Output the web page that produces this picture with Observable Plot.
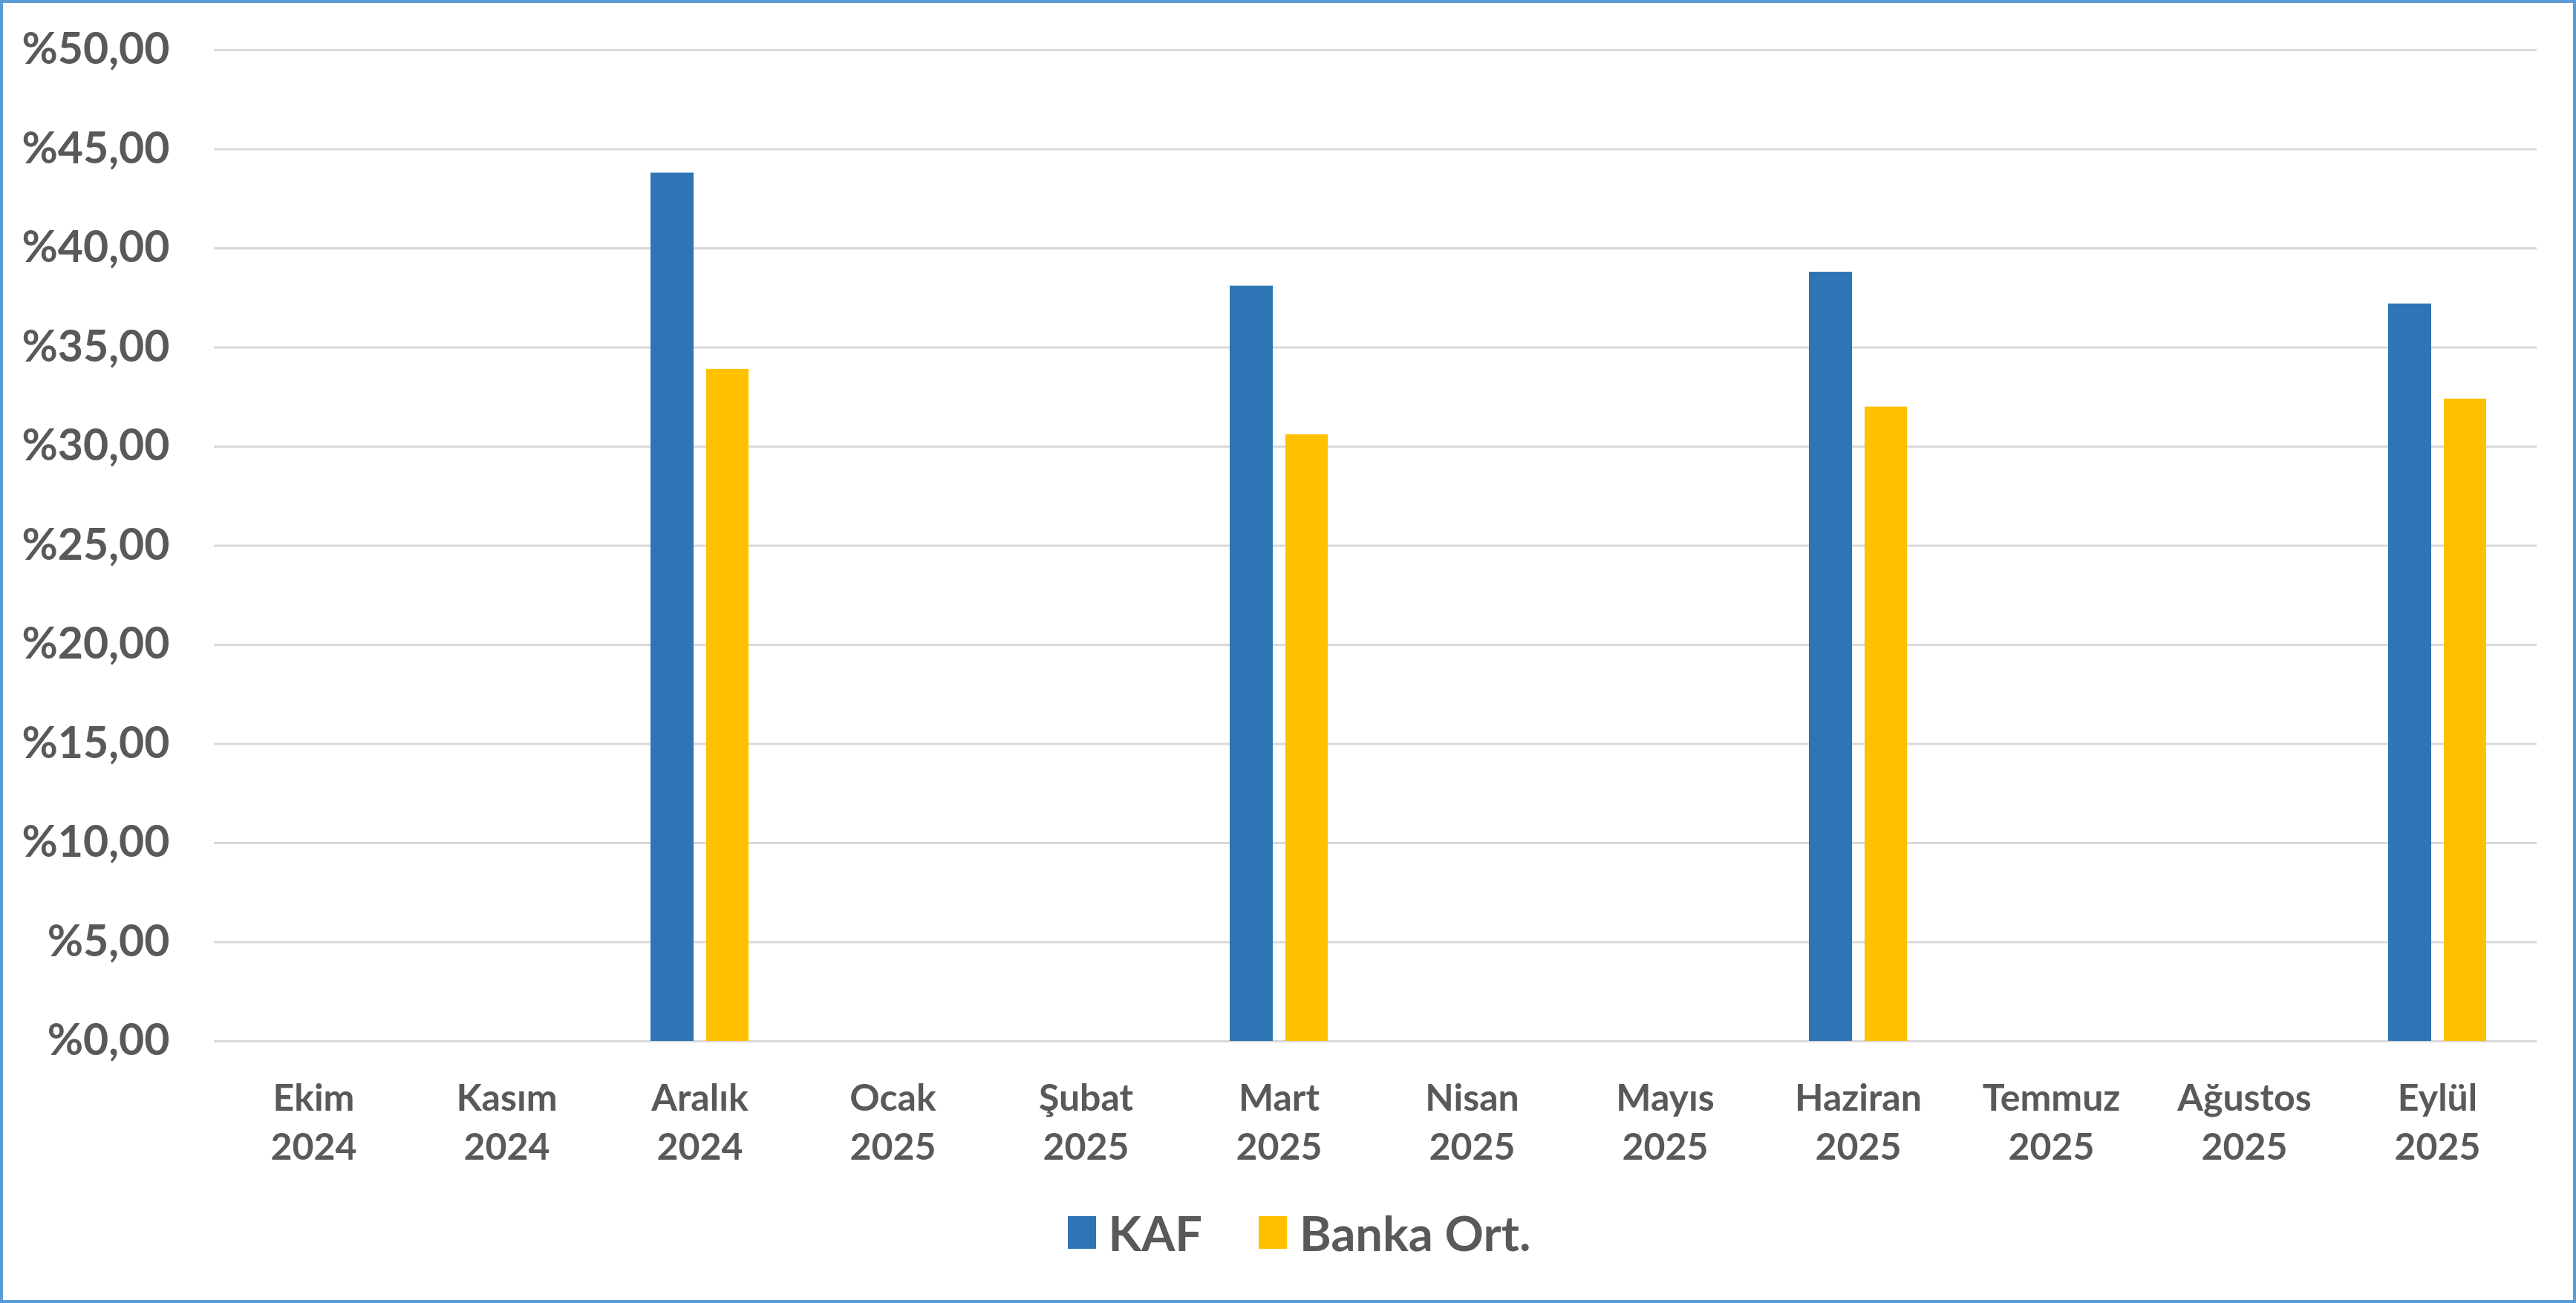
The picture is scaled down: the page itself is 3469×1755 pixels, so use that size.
<!DOCTYPE html>
<html>
<head>
<meta charset="utf-8">
<script src="https://cdn.jsdelivr.net/npm/d3@7"></script>
<script src="https://cdn.jsdelivr.net/npm/@observablehq/plot@0.6"></script>
<style>
  html, body { margin: 0; padding: 0; background: #fff; }
  #frame { position: relative; width: 3469px; height: 1755px; box-sizing: border-box;
           border: 4px solid #5B9BD5; background: #fff; overflow: hidden;
           font-family: Lato, "Open Sans", sans-serif; }
  #chart svg { display: block; }
  #legend { position: absolute; left: 0; right: 0; top: 1616px; height: 80px;
            display: flex; justify-content: center; align-items: center;
            padding-left: 30px; box-sizing: border-box;
            font-family: Lato, sans-serif; font-weight: 700; font-size: 65px; color: #595959; }
  .item { display: flex; align-items: center; margin: 0 38px; }
  .sw { width: 38px; height: 44px; margin-right: 17px; }
</style>
</head>
<body>
<div id="frame">
  <div id="chart"></div>
  <div id="legend"></div>
</div>
<script>
const monthNames = ["Ekim","Kasım","Aralık","Ocak","Şubat","Mart","Nisan","Mayıs","Haziran","Temmuz","Ağustos","Eylül"];
const years = ["2024","2024","2024","2025","2025","2025","2025","2025","2025","2025","2025","2025"];
const kafValues   = [null, null, 43.8, null, null, 38.1, null, null, 38.8, null, null, 37.2];
const bankaValues = [null, null, 33.9, null, null, 30.6, null, null, 32.0, null, null, 32.4];
const seriesNames = ["KAF", "Banka Ort."];
const seriesColors = ["#2E75B6", "#FFC000"];
const yTicks = [0, 5, 10, 15, 20, 25, 30, 35, 40, 45, 50];

const categories = monthNames.map((m, i) => m + "\n" + years[i]);
const kafRows = categories.map((c, i) => ({cat: c, value: kafValues[i]})).filter(d => d.value != null);
const bankaRows = categories.map((c, i) => ({cat: c, value: bankaValues[i]})).filter(d => d.value != null);

const chart = Plot.plot({
  width: 3461,
  height: 1590,
  marginLeft: 284,
  marginRight: 49,
  marginTop: 63,
  marginBottom: 192,
  style: {fontFamily: "Lato, sans-serif", color: "#595959", background: "#fff"},
  x: {type: "band", domain: categories, padding: 0},
  y: {domain: [0, 50]},
  marks: [
    Plot.ruleY(yTicks, {stroke: "#D9D9D9", strokeWidth: 3}),
    Plot.barY(kafRows, {x: "cat", y: "value", fill: seriesColors[0], insetLeft: 64, insetRight: 138}),
    Plot.barY(bankaRows, {x: "cat", y: "value", fill: seriesColors[1], insetLeft: 139, insetRight: 64}),
    Plot.axisY(yTicks, {tickSize: 0, tickPadding: 60, fontSize: 59, fontWeight: 700, fill: "#595959",
      tickFormat: d => "%" + d.toFixed(2).replace(".", ","), label: null}),
    Plot.axisX({tickSize: 0, tickPadding: 46, fontSize: 50, fontWeight: 700, fill: "#595959",
      lineHeight: 1.33, label: null})
  ]
});
document.getElementById("chart").appendChild(chart);

const legend = document.getElementById("legend");
seriesNames.forEach((name, i) => {
  const item = document.createElement("div");
  item.className = "item";
  const sw = document.createElement("div");
  sw.className = "sw";
  sw.style.background = seriesColors[i];
  const t = document.createElement("span");
  t.textContent = name;
  item.appendChild(sw);
  item.appendChild(t);
  legend.appendChild(item);
});
</script>
</body>
</html>
